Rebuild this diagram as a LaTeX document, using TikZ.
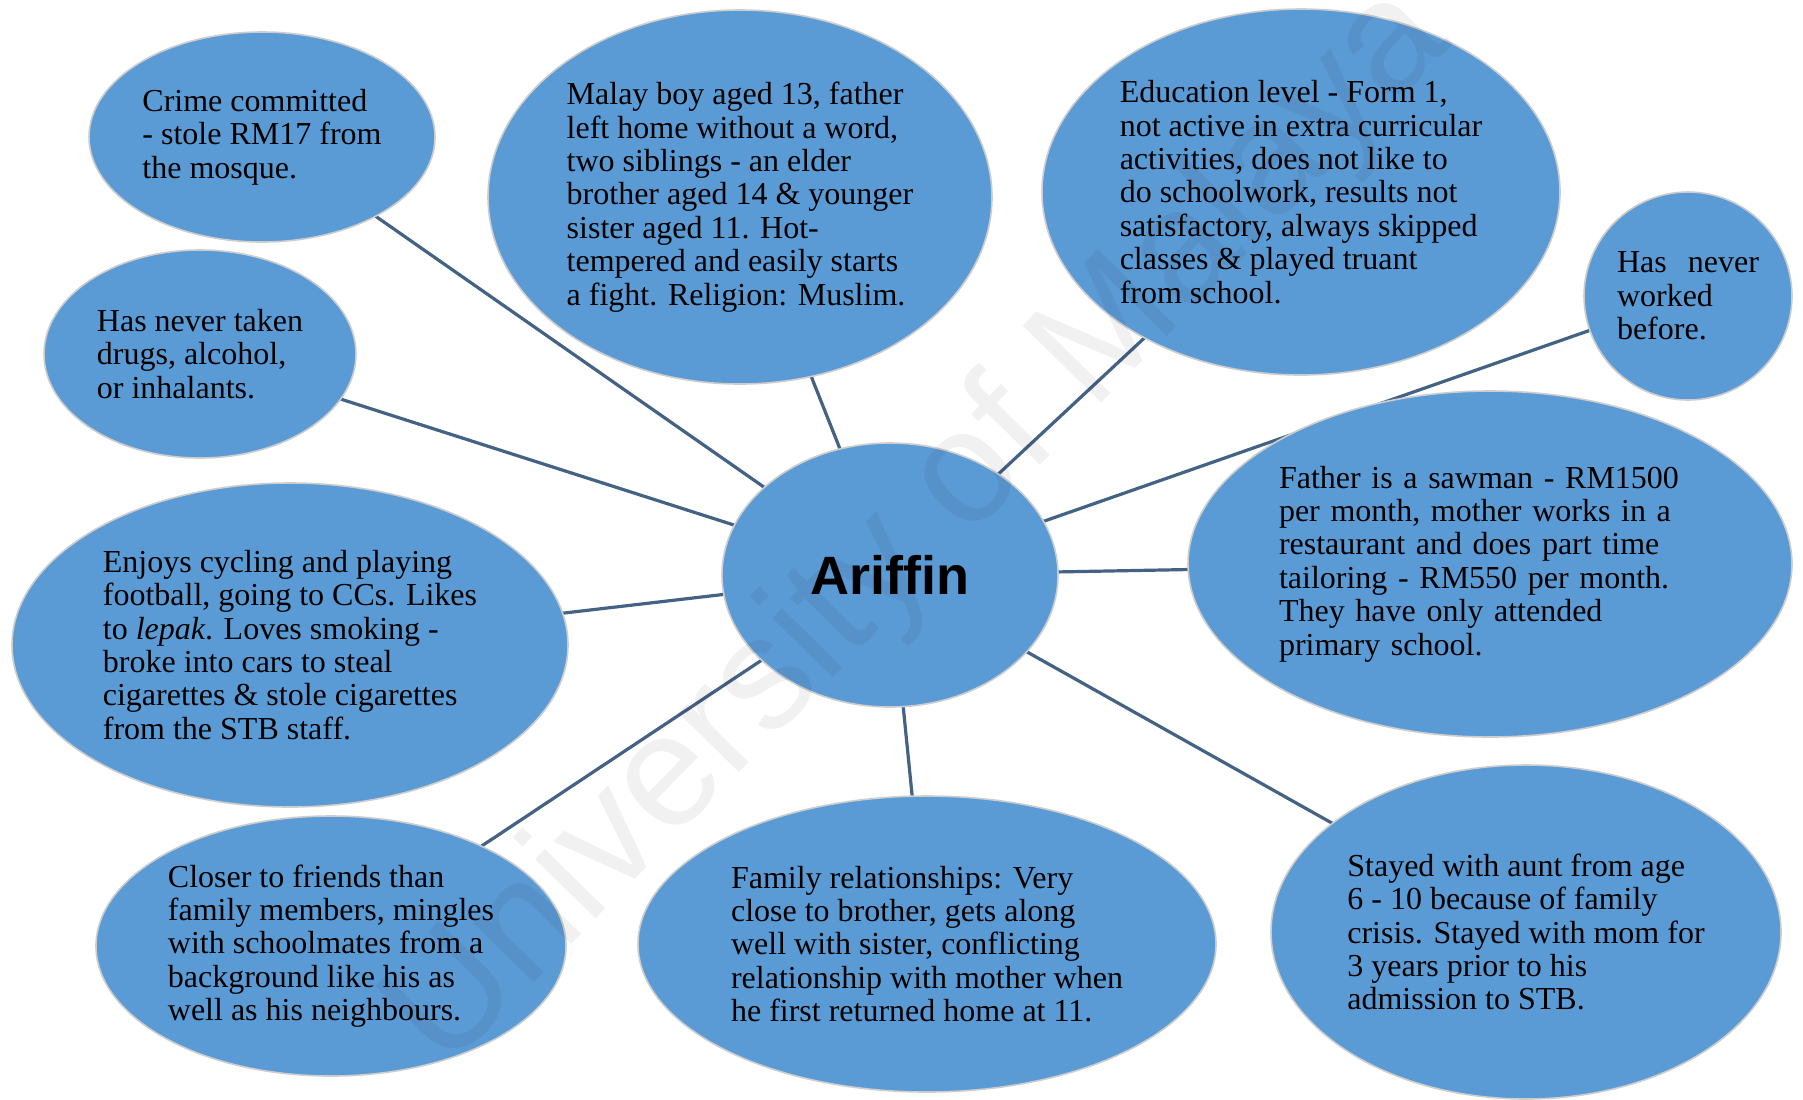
\documentclass[tikz,border=0pt]{standalone}
\usepackage{fontspec}
\setmainfont{Liberation Serif}
\newfontfamily\headfont{Liberation Sans}
\usetikzlibrary{shapes.geometric,backgrounds}

\definecolor{bubblefill}{RGB}{91,155,213}
\definecolor{bubbleline}{RGB}{205,205,205}
\definecolor{linkcol}{RGB}{68,98,132}

\tikzset{
  bubble/.style={ellipse, fill=bubblefill, draw=bubbleline, line width=0.8pt,
    inner sep=0pt, align=left, font=\fontsize{16}{16.7}\selectfont},
  link/.style={draw=linkcol, line width=1.6pt},
  hub/.style={ellipse, fill=bubblefill, draw=bubbleline, line width=0.8pt,
    inner sep=0pt, font=\headfont\bfseries\fontsize{27}{30}\selectfont},
  watermark/.style={font=\headfont\fontsize{80}{80}\selectfont,
    text=black, text opacity=0.055, inner sep=0pt}
}

\begin{document}
\begin{tikzpicture}[x=0.5pt, y=-0.5pt]
  \useasboundingbox (0,0) rectangle (1803,1099);

  % central topic
  \node[hub, minimum width=168pt, minimum height=132pt] (c) at (890,575) {Ariffin};

  % surrounding facts
  \node[bubble, minimum width=173pt, minimum height=105pt] (crime) at (262,137)
    {Crime committed\\- stole RM17 from\\the mosque.};
  \node[bubble, minimum width=156pt, minimum height=104pt] (drugs) at (200,354)
    {Has never taken\\drugs, alcohol,\\or inhalants.};
  \node[bubble, minimum width=252pt, minimum height=187pt] (bio) at (740,197)
    {Malay boy aged 13, father\\left home without a word,\\two siblings - an elder\\brother aged 14 \& younger\\sister aged 11. Hot-\\tempered and easily starts\\a fight. Religion: Muslim.};
  \node[bubble, minimum width=259pt, minimum height=183pt] (edu) at (1301,192)
    {Education level - Form 1,\\not active in extra curricular\\activities, does not like to\\do schoolwork, results not\\satisfactory, always skipped\\classes \& played truant\\from school.};
  \node[bubble, minimum width=104pt, minimum height=104pt] (work) at (1688,296)
    {\makebox[71pt][s]{Has never}\\worked\\before.};
  \node[bubble, minimum width=302pt, minimum height=173pt, text width=211pt] (parents) at (1490,564)
    {Father is a sawman - RM1500\\per month, mother works in a\\restaurant and does part time\\tailoring - RM550 per month.\\They have only attended\\primary school.};
  \node[bubble, minimum width=278pt, minimum height=162pt] (hobby) at (290,645)
    {Enjoys cycling and playing\\football, going to CCs. Likes\\to \textit{lepak}. Loves smoking -\\broke into cars to steal\\cigarettes \& stole cigarettes\\from the STB staff.};
  \node[bubble, minimum width=235pt, minimum height=130pt] (friends) at (331,946)
    {Closer to friends than\\family members, mingles\\with schoolmates from a\\background like his as\\well as his neighbours.};
  \node[bubble, minimum width=289pt, minimum height=148pt] (family) at (927,944)
    {Family relationships: Very\\close to brother, gets along\\well with sister, conflicting\\relationship with mother when\\he first returned home at 11.};
  \node[bubble, minimum width=255pt, minimum height=167pt] (aunt) at (1526,932)
    {Stayed with aunt from age\\6 - 10 because of family\\crisis. Stayed with mom for\\3 years prior to his\\admission to STB.};

  % white page, then spokes between centres, all behind the bubbles
  \begin{pgfonlayer}{background}
    \fill[white] (0,0) rectangle (1803,1099);
    \foreach \n in {crime,drugs,bio,edu,work,parents,hobby,friends,family,aunt}
      \draw[link] (c.center) -- (\n.center);
  \end{pgfonlayer}

  % faint diagonal watermark
  \node[watermark, rotate=45.6] (wm) at (920,529) {University of Malaya};
\end{tikzpicture}
\end{document}
